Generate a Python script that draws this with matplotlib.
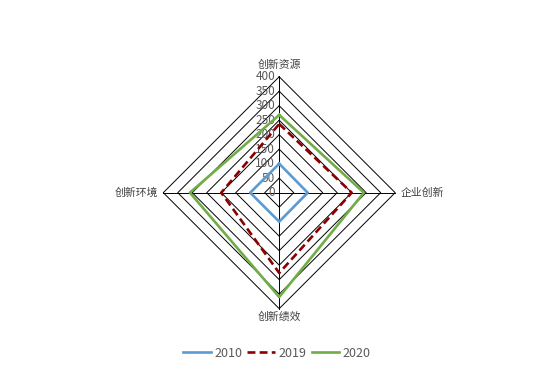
import numpy as np
import matplotlib
matplotlib.use("Agg")
import matplotlib.pyplot as plt

plt.rcParams["font.family"] = ["Noto Sans CJK SC", "DejaVu Sans"]

categories = ["创新资源", "企业创新", "创新绩效", "创新环境"]
years = ["2010", "2019", "2020"]
v2010 = [100, 98, 100, 100]
v2019 = [237, 250, 277, 200]
v2020 = [268, 292, 360, 308]
ticks = [0, 50, 100, 150, 200, 250, 300, 350, 400]

colors = ["#5B9BD5", "#8B0000", "#70AD47"]
styles = ["-", (0, (3, 1.6)), "-"]

fig = plt.figure(figsize=(5.54, 3.74), dpi=100)
fig.patch.set_facecolor("white")
ax = fig.add_axes([0.2946, 0.1748, 0.4188, 0.620], projection="polar")
ax.set_theta_offset(np.pi / 2)
ax.set_theta_direction(-1)
ax.set_ylim(0, 400)
ax.set_xticks([])
ax.set_yticks([])
ax.grid(False)
ax.spines["polar"].set_visible(False)
ax.patch.set_alpha(0)

theta = np.linspace(0, 2 * np.pi, len(categories), endpoint=False)
closed = np.append(theta, theta[0])

# diamond gridlines and spokes
for r in ticks[1:]:
    ax.plot(closed, [r] * len(closed), color="black", lw=0.7, clip_on=False, zorder=1)
for t in theta:
    ax.plot([t, t], [0, 400], color="black", lw=0.7, clip_on=False, zorder=1)

for r in ticks:
    ax.annotate(str(r), xy=(0, r), xytext=(-3, 0), textcoords="offset points",
                ha="right", va="center", fontsize=8.5, color="#595959")

offsets = [(0, 5), (4, 0), (0, -2), (-4, 0)]
aligns = [("center", "bottom"), ("left", "center"), ("center", "top"), ("right", "center")]
for t, lab, off, (ha, va) in zip(theta, categories, offsets, aligns):
    ax.annotate(lab, xy=(t, 400), xytext=off, textcoords="offset points",
                ha=ha, va=va, fontsize=7.8, color="#404040")

for vals, yr, c, ls in zip([v2010, v2019, v2020], years, colors, styles):
    ax.plot(closed, vals + vals[:1], color=c, lw=1.9, linestyle=ls, label=yr,
            clip_on=False, zorder=3)

fig.legend(loc="center", bbox_to_anchor=(0.5, 0.056), ncol=3, frameon=False,
           fontsize=9, handlelength=2.2, handletextpad=0.3, columnspacing=0.4,
           labelcolor="#595959")

fig.savefig("out.png", dpi=100, facecolor="white")
